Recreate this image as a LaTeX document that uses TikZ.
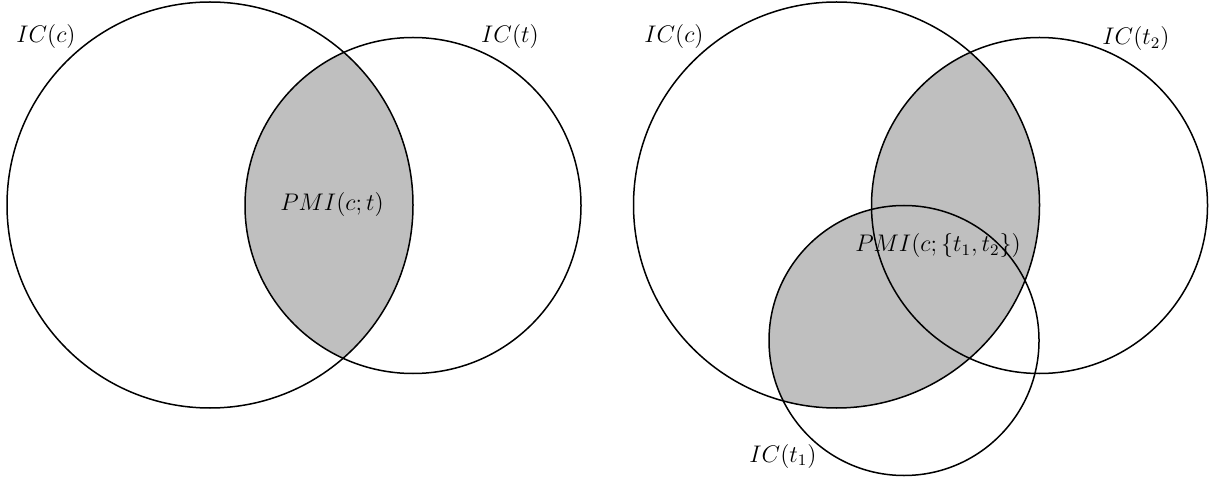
\documentclass[tikz,border=0pt]{standalone}
\begin{document}
\begin{tikzpicture}[x=0.5pt,y=-0.5pt,
  venn/.style={draw=black,line width=0.75pt},
  lbl/.style={inner sep=0pt,font=\fontsize{12}{14}\selectfont}]
\useasboundingbox (0,0) rectangle (1213,480);
% ---- left diagram ----
\begin{scope}
  \clip (210,205) circle[radius=101.5pt];
  \fill[gray!50] (413,205.5) circle[radius=84pt];
\end{scope}
\draw[venn] (210,205) circle[radius=101.5pt];
\draw[venn] (413,205.5) circle[radius=84pt];
\node[lbl] (icc1) at (46,37) {$IC(c)$};
\node[lbl] (ict) at (510,37) {$IC(t)$};
\node[lbl] (pmi1) at (332,205) {$PMI(c;t)$};
% ---- right diagram ----
\begin{scope}
  \clip (836.5,205) circle[radius=101.5pt];
  \fill[gray!50] (1039.5,205.5) circle[radius=84pt];
  \fill[gray!50] (904,340.5) circle[radius=67.5pt];
\end{scope}
\draw[venn] (836.5,205) circle[radius=101.5pt];
\draw[venn] (1039.5,205.5) circle[radius=84pt];
\draw[venn] (904,340.5) circle[radius=67.5pt];
\node[lbl] (icc2) at (674,37) {$IC(c)$};
\node[lbl] (ict2) at (1136,39) {$IC(t_2)$};
\node[lbl] (pmi2) at (938,246) {$PMI(c;\{t_1,t_2\})$};
\node[lbl] (ict1) at (783,456) {$IC(t_1)$};
\end{tikzpicture}
\end{document}
